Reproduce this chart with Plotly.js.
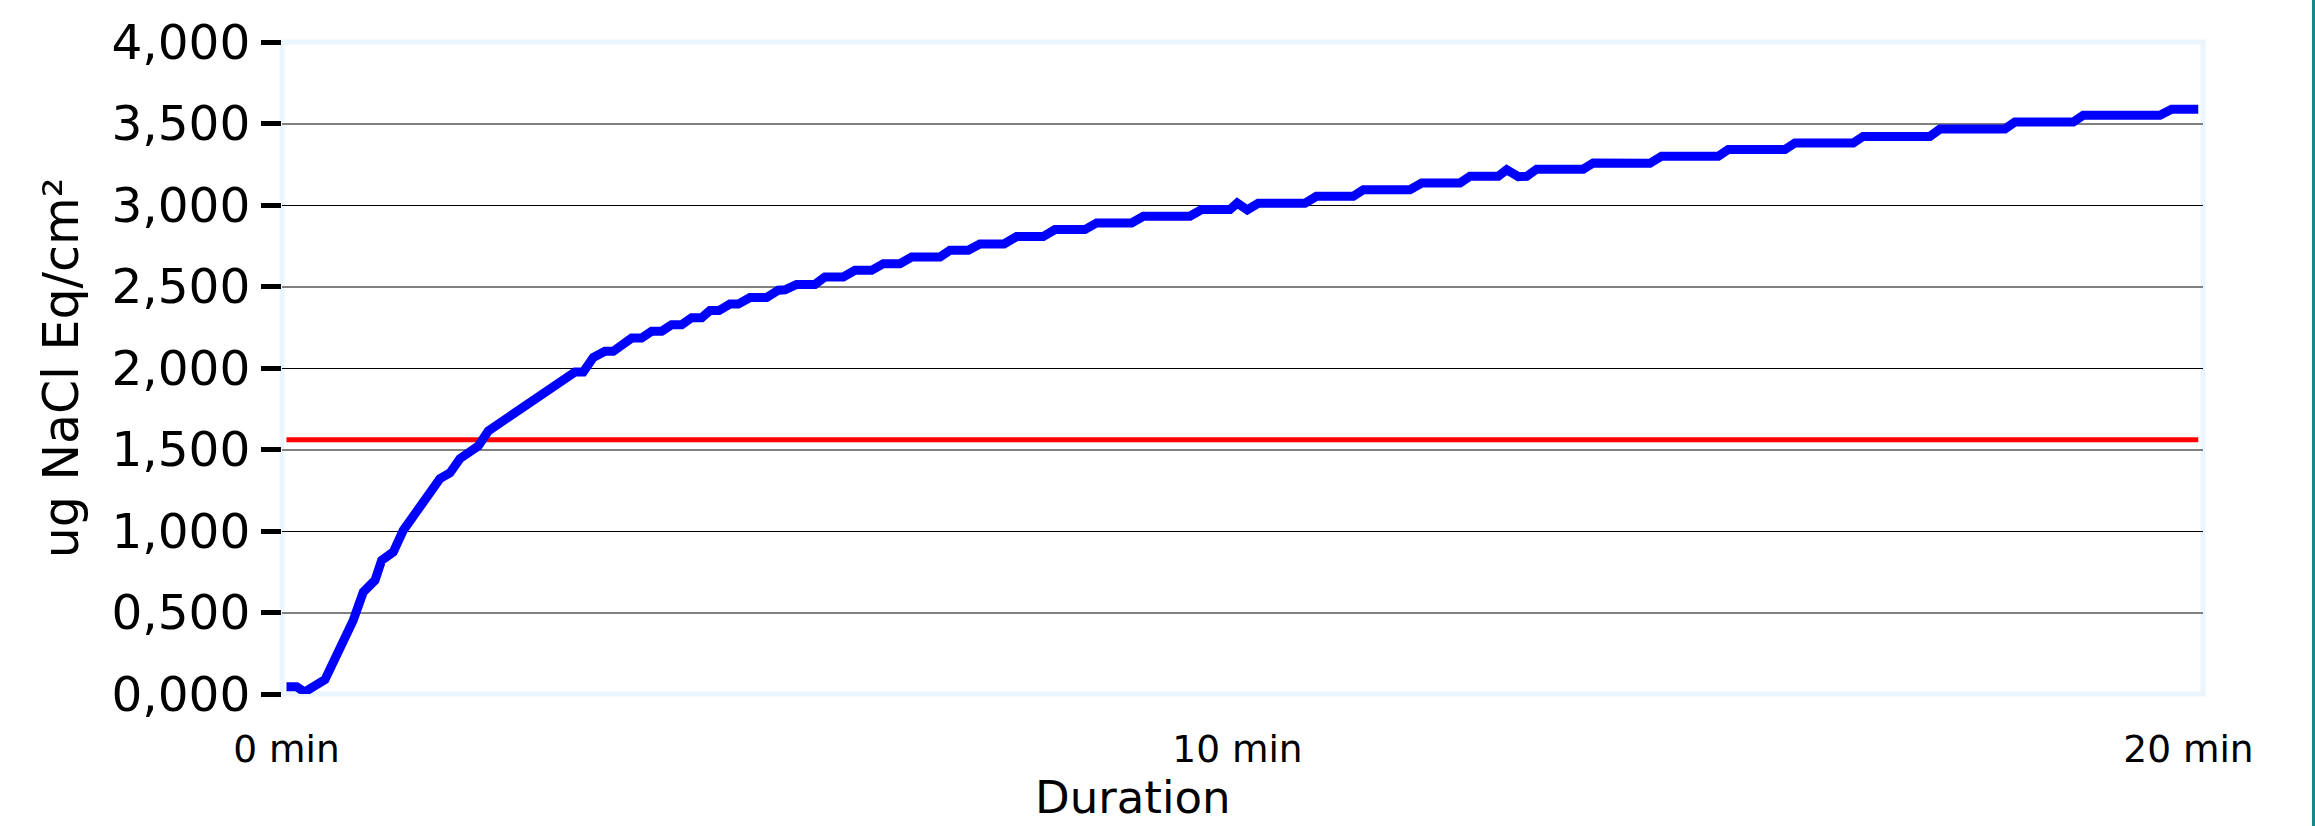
<!DOCTYPE html>
<html>
<head>
<meta charset="utf-8">
<script src="https://cdn.plot.ly/plotly-3.0.1.min.js"></script>
<style>
  html, body { margin: 0; padding: 0; background: #ffffff; }
  #chart { width: 2315px; height: 826px; }
  #edge { position: absolute; left: 2312px; top: 0; width: 3px; height: 826px; background: #12898a; }
</style>
</head>
<body>
<div id="chart"></div>
<div id="edge"></div>
<script>
// ---- data ----
const timeMin = [0.00, 0.107, 0.19, 0.405, 0.702, 0.808, 0.931, 1.001, 1.123, 1.228,
  1.614, 1.719, 1.824, 2.017, 2.122, 2.210, 3.034, 3.121, 3.226, 3.349,
  3.436, 3.630, 3.735, 3.840, 3.945, 4.050, 4.156, 4.261, 4.366, 4.453,
  4.548, 4.663, 4.751, 4.874, 5.049, 5.172, 5.242, 5.365, 5.557, 5.662,
  5.855, 5.978, 6.153, 6.276, 6.451, 6.574, 6.872, 6.977, 7.169, 7.292,
  7.545, 7.678, 7.957, 8.081, 8.396, 8.519, 8.887, 9.010, 9.500, 9.623,
  9.921, 9.998, 10.103, 10.218, 10.709, 10.830, 11.218, 11.324, 11.814, 11.937,
  12.340, 12.445, 12.742, 12.831, 12.953, 13.041, 13.146, 13.636, 13.741, 14.337,
  14.460, 15.056, 15.161, 15.757, 15.862, 16.475, 16.580, 17.281, 17.387, 18.070,
  18.175, 18.789, 18.894, 19.700, 19.823, 20.103];
const naclEq = [45, 45, 12, 88, 452, 626, 698, 820, 871, 1004,
  1321, 1356, 1444, 1521, 1614, 1648, 1975, 1975, 2064, 2102,
  2102, 2184, 2184, 2225, 2225, 2266, 2266, 2309, 2309, 2352,
  2352, 2392, 2392, 2432, 2432, 2477, 2480, 2513, 2513, 2559,
  2559, 2599, 2599, 2640, 2640, 2681, 2681, 2722, 2722, 2761,
  2761, 2806, 2806, 2849, 2849, 2890, 2890, 2931, 2931, 2972,
  2972, 3012, 2970, 3010, 3010, 3053, 3053, 3094, 3094, 3135,
  3135, 3176, 3176, 3217, 3174, 3176, 3220, 3220, 3258, 3256,
  3299, 3299, 3340, 3340, 3380, 3380, 3421, 3421, 3466, 3466,
  3509, 3509, 3550, 3550, 3587, 3587];
const limitTime = [0.00, 20.103];
const limitValue = [1560, 1560];

const xTickValues = [0, 10, 20];
const xTickLabels = ['0 min', '10 min', '20 min'];
const yTickValues = [0, 500, 1000, 1500, 2000, 2500, 3000, 3500, 4000];
const yTickLabels = ['0,000', '0,500', '1,000', '1,500', '2,000', '2,500', '3,000', '3,500', '4,000'];
const grayGridValues = [500, 1500, 2500, 3500];

const traces = [
  { x: limitTime, y: limitValue, mode: 'lines', yaxis: 'y',
    line: { color: '#FF0000', width: 5 }, hoverinfo: 'skip', name: 'Limit' },
  { x: timeMin, y: naclEq, mode: 'lines', yaxis: 'y2',
    line: { color: '#0000FF', width: 9 }, name: 'ug NaCl Eq/cm²' }
];

const layout = {
  width: 2315, height: 826,
  margin: { l: 282, r: 112, t: 42, b: 132, pad: 0 },
  paper_bgcolor: '#ffffff', plot_bgcolor: '#ffffff',
  showlegend: false,
  font: { family: 'DejaVu Sans, Verdana, sans-serif', color: '#000000' },
  xaxis: {
    range: [-0.047, 20.153], tickvals: xTickValues, ticktext: xTickLabels,
    ticks: '', showgrid: false, zeroline: false, showline: false,
    tickfont: { size: 37.5, color: '#000000' }, ticklabelstandoff: 29, fixedrange: true
  },
  yaxis: {
    range: [0, 4000], tickvals: yTickValues, ticktext: yTickLabels,
    ticks: 'outside', ticklen: 20, tickwidth: 5, tickcolor: '#000000',
    tickfont: { size: 48.5, color: '#000000' }, ticklabelstandoff: 1,
    showgrid: true, gridcolor: '#000000', gridwidth: 1,
    zeroline: false, showline: false, fixedrange: true,
    title: { text: 'ug NaCl Eq/cm²', font: { size: 49, color: '#000000' }, standoff: 17 }
  },
  yaxis2: {
    overlaying: 'y', side: 'left', range: [0, 4000], tickvals: grayGridValues,
    showticklabels: false, ticks: '', showgrid: true, gridcolor: '#808080', gridwidth: 2,
    zeroline: false, showline: false, fixedrange: true
  },
  shapes: [{
    type: 'rect', xref: 'x domain', yref: 'y domain', x0: 0, x1: 1, y0: 0, y1: 1,
    line: { color: '#EAF5FE', width: 5 }, layer: 'below'
  }],
  annotations: [{
    text: 'Duration', xref: 'paper', yref: 'paper', x: 0.4425, y: -0.158,
    xanchor: 'center', yanchor: 'middle', showarrow: false,
    font: { size: 45, color: '#000000' }
  }]
};

Plotly.newPlot('chart', traces, layout, { staticPlot: true, displayModeBar: false });
</script>
</body>
</html>
